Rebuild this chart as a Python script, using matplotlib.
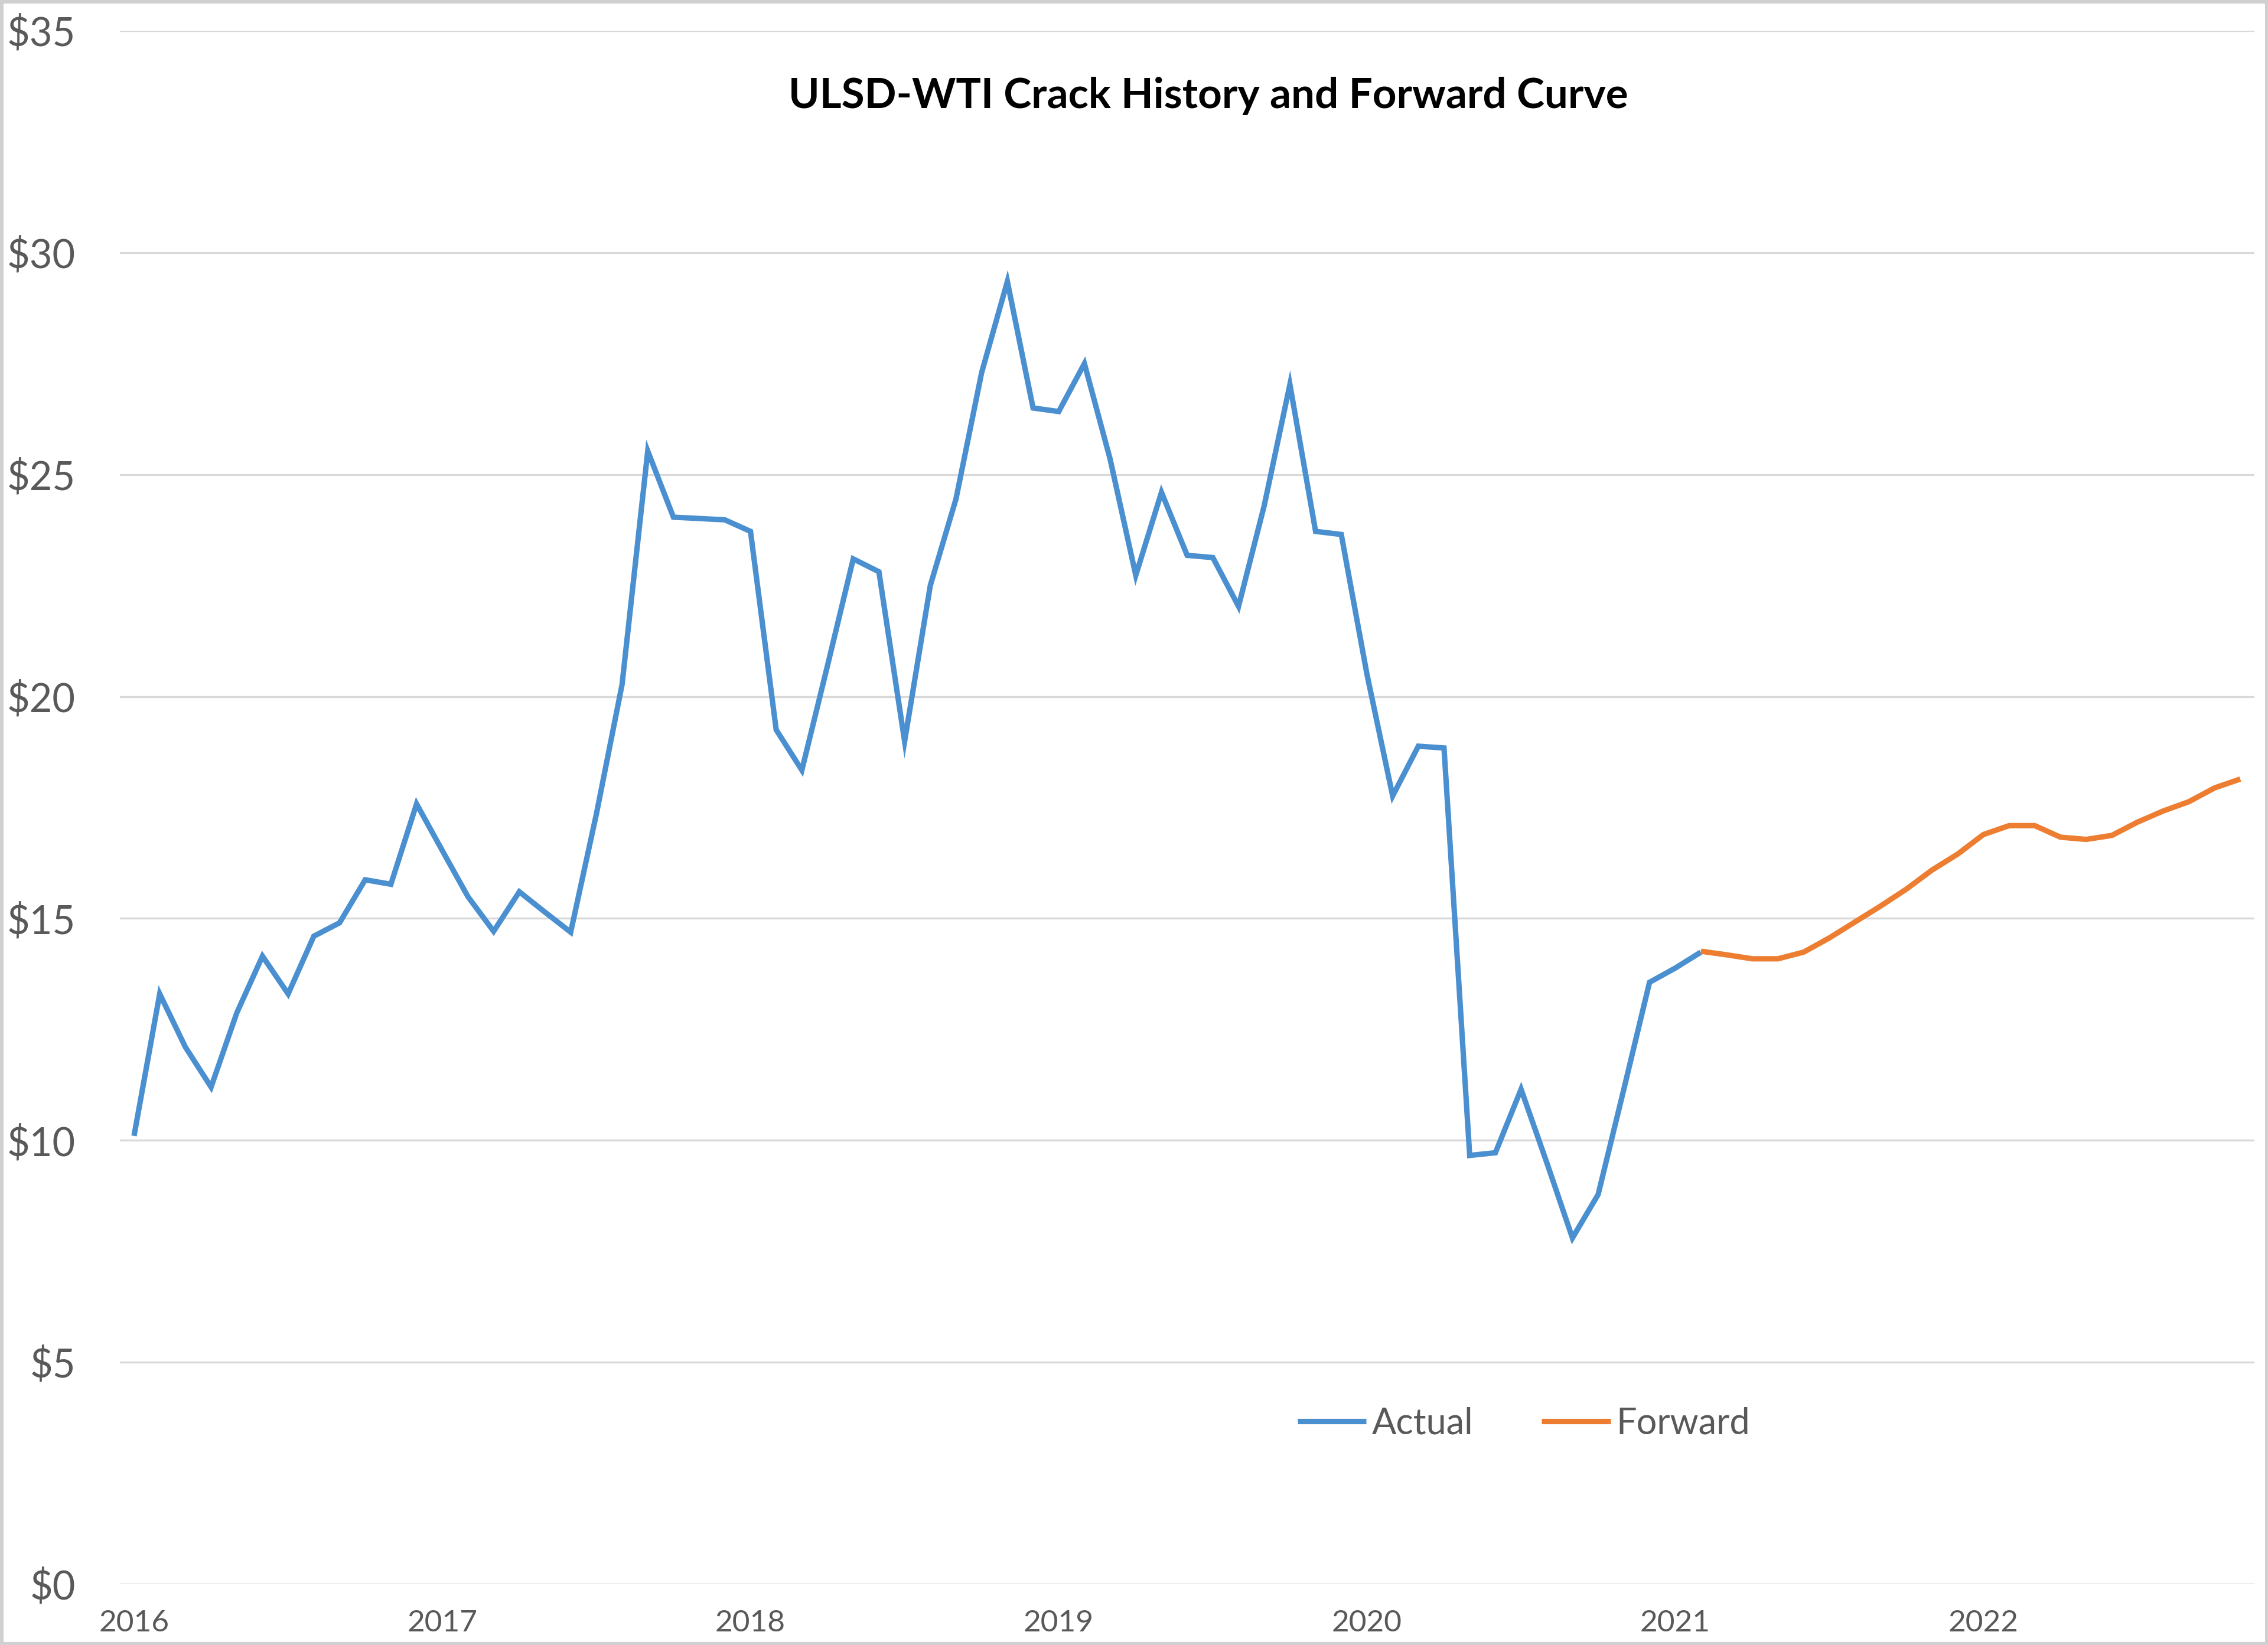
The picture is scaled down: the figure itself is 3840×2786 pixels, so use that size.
import matplotlib
matplotlib.use("Agg")
import matplotlib.pyplot as plt
from matplotlib.patches import Rectangle

# ---- data (monthly, index 0 = Jan 2016) ----
actual = [10.1, 13.3, 12.1, 11.2, 12.87, 14.15, 13.3, 14.6, 14.9, 15.87, 15.77, 17.58,
          16.53, 15.49, 14.71, 15.6, 15.14, 14.69, 17.35, 20.27, 25.53, 24.04, 24.01, 23.98,
          23.72, 19.25, 18.34, 20.7, 23.1, 22.81, 18.99, 22.5, 24.45, 27.3, 29.35, 26.5,
          26.42, 27.5, 25.35, 22.73, 24.6, 23.18, 23.13, 22.03, 24.3, 27.03, 23.72, 23.65,
          20.5, 17.76, 18.88, 18.84, 9.66, 9.72, 11.15, 9.5, 7.8, 8.78, 11.15, 13.56,
          13.88, 14.24]
forward = [14.26, 14.18, 14.09, 14.09, 14.24, 14.56, 14.92, 15.28, 15.66, 16.09, 16.45,
           16.89, 17.09, 17.09, 16.83, 16.78, 16.87, 17.17, 17.42, 17.63, 17.94, 18.14]
forward_start = 61
year_labels = ["2016", "2017", "2018", "2019", "2020", "2021", "2022"]
y_ticks = [0, 5, 10, 15, 20, 25, 30, 35]
title = "ULSD-WTI Crack History and Forward Curve"

FONT = ["Lato", "DejaVu Sans"]
plt.rcParams["font.family"] = FONT

W, H = 3840, 2786
fig = plt.figure(figsize=(W / 100, H / 100), dpi=100)
fig.patch.set_facecolor("white")

left, right = 203 / W, 3817 / W
bottom, top = (H - 2683) / H, (H - 52) / H
ax = fig.add_axes([left, bottom, right - left, top - bottom])

x_act = list(range(len(actual)))
x_fwd = list(range(forward_start, forward_start + len(forward)))

ax.plot(x_act, actual, color="#4A8FD0", lw=6.6, solid_joinstyle="miter",
        solid_capstyle="butt", label="Actual", zorder=3)
ax.plot(x_fwd, forward, color="#ED7D31", lw=6.6, solid_joinstyle="round",
        solid_capstyle="butt", label="Forward", zorder=3)

ax.set_xlim(-0.55, 82.55)
ax.set_ylim(0, 35)
ax.set_yticks(y_ticks)
ax.set_yticklabels([f"${v}" for v in y_ticks])
ax.set_xticks([12 * i for i in range(len(year_labels))])
ax.set_xticklabels(year_labels)

ax.grid(axis="y", color="#D9D9D9", lw=2.4, zorder=0)
ax.set_axisbelow(True)
for s in ax.spines.values():
    s.set_visible(False)
ax.tick_params(axis="both", length=0)
ax.tick_params(axis="y", labelsize=48, labelcolor="#595959", pad=54)
ax.tick_params(axis="x", labelsize=37, labelcolor="#595959", pad=31)

ax.text(0.510, 0.958, title, transform=ax.transAxes, ha="center", va="center",
        fontsize=51, fontweight="bold", color="black")

leg = ax.legend(loc="center", bbox_to_anchor=(0.6577, 0.1034), ncol=2, frameon=False,
                fontsize=44, handlelength=1.9, handletextpad=0.16, columnspacing=1.9,
                borderpad=0, borderaxespad=0)
for t in leg.get_texts():
    t.set_color("#595959")

fig.patches.append(Rectangle((0, 0), 1, 1, transform=fig.transFigure, fill=False,
                             edgecolor="#D0D0D0", lw=8, zorder=10))

fig.savefig("out.png", dpi=100, facecolor="white")
